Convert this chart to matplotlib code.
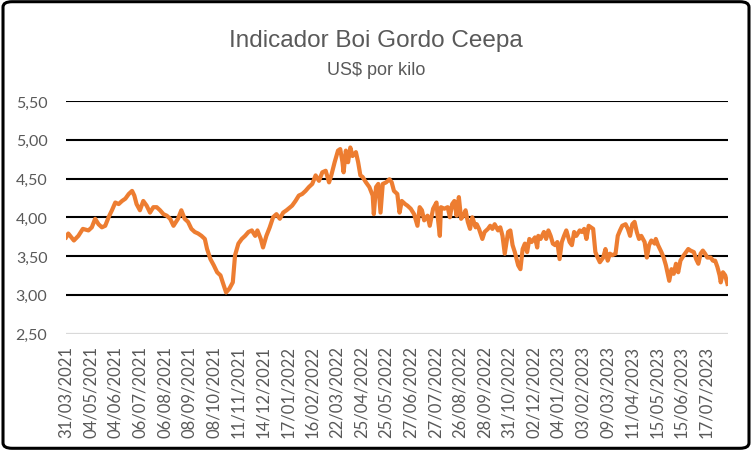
import matplotlib
matplotlib.use("Agg")
import matplotlib.pyplot as plt
from matplotlib.patches import FancyBboxPatch

# ---- data (trading-session index, value in US$/kg) ----
session = [0, 2, 7, 11, 15, 20, 23, 26, 29, 32, 35, 38, 41, 44, 47, 50, 53, 56, 59, 61, 63, 66, 69, 72,
           75, 78, 81, 84, 87, 90, 93, 96,
           100, 103, 106, 109, 112, 115, 118, 121, 124, 126, 129, 132, 135, 138, 140, 143, 146, 149,
           151, 154, 157, 160, 163, 166, 169, 171, 174, 176, 179, 182, 185, 188, 191, 194, 197,
           202, 205, 208, 211, 214, 217, 220, 223, 226, 229, 232, 235, 237, 240, 243, 245, 247, 248,
           250, 252, 254, 256, 259, 261, 263, 265, 268, 271, 274, 275, 277, 279, 281, 283, 286, 289,
           291, 293, 296, 298, 300, 303,
           305, 308, 311, 314, 316, 318, 320, 323, 325, 328, 331, 332, 334, 335, 338, 341, 343, 345,
           347, 349, 351, 353, 355, 357, 359, 361, 363, 366, 367, 369, 372, 374, 377, 379, 381, 383,
           386, 388, 390, 392, 395, 397, 399, 401, 404, 406,
           408, 410, 412, 414, 416, 419, 421, 422, 424, 427, 429, 431, 433, 435, 437, 439, 441, 443,
           445, 447, 450, 452, 454, 456, 459, 461, 463, 465, 467, 469, 471, 473, 475, 477, 480, 482,
           484, 486, 488, 491, 493, 495, 497, 500, 502, 504, 506, 508,
           510, 512, 514, 517, 519, 521, 523, 526, 527, 529, 532, 534, 536, 538, 539, 541, 543, 545,
           547, 549, 552, 554, 556, 558, 561, 563, 565, 567, 569, 571, 573, 576, 578, 580, 582, 584,
           585, 587, 589, 591]

price = [3.74, 3.79, 3.70, 3.76, 3.85, 3.83, 3.87, 3.98, 3.91, 3.87, 3.89, 4.00, 4.09, 4.19, 4.17, 4.21,
         4.24, 4.30, 4.34, 4.28, 4.17, 4.09, 4.21, 4.15, 4.06, 4.13, 4.13, 4.09, 4.04, 4.02, 3.98, 3.89,
         3.98, 4.09, 3.98, 3.94, 3.85, 3.81, 3.79, 3.76, 3.72, 3.59, 3.46, 3.38, 3.29, 3.25, 3.16, 3.03,
         3.08, 3.16, 3.51, 3.66, 3.72, 3.76, 3.81, 3.83, 3.76, 3.83, 3.72, 3.61, 3.76, 3.87, 4.00, 4.04,
         3.98, 4.06, 4.09,
         4.15, 4.21, 4.28, 4.30, 4.34, 4.39, 4.43, 4.54, 4.47, 4.58, 4.60, 4.45, 4.54, 4.71, 4.86, 4.88,
         4.71, 4.58, 4.86, 4.71, 4.90, 4.79, 4.84, 4.71, 4.54, 4.52, 4.45, 4.39, 4.28, 4.04, 4.39, 4.43,
         4.06, 4.43, 4.45, 4.49, 4.45, 4.34, 4.30, 4.06, 4.21, 4.17,
         4.15, 4.11, 4.04, 3.89, 4.13, 4.09, 3.96, 4.02, 3.89, 4.11, 4.19, 4.02, 3.76, 4.13, 4.11, 4.13,
         4.00, 4.17, 4.21, 4.02, 4.26, 3.98, 4.02, 4.09, 3.94, 3.85, 4.00, 3.87, 3.91, 3.85, 3.72, 3.81,
         3.85, 3.89, 3.85, 3.91, 3.83, 3.87, 3.76, 3.53, 3.81, 3.83, 3.64, 3.55, 3.38, 3.33,
         3.59, 3.66, 3.55, 3.72, 3.68, 3.74, 3.61, 3.76, 3.72, 3.81, 3.72, 3.83, 3.76, 3.66, 3.64, 3.68,
         3.46, 3.68, 3.76, 3.83, 3.68, 3.64, 3.81, 3.76, 3.83, 3.81, 3.85, 3.72, 3.89, 3.87, 3.85, 3.55,
         3.48, 3.42, 3.48, 3.59, 3.44, 3.53, 3.51, 3.53, 3.76, 3.83, 3.89, 3.91, 3.85, 3.76, 3.91, 3.94,
         3.81, 3.72, 3.76, 3.68, 3.48, 3.64, 3.70, 3.66, 3.72, 3.64, 3.55, 3.48, 3.38, 3.25, 3.18, 3.33,
         3.27, 3.40, 3.29, 3.44, 3.51, 3.55, 3.59, 3.57, 3.55, 3.46, 3.40, 3.53, 3.57, 3.53, 3.48, 3.48,
         3.44, 3.44, 3.36, 3.25, 3.16, 3.29, 3.25, 3.14]

tick_labels = ["31/03/2021", "04/05/2021", "04/06/2021", "06/07/2021", "06/08/2021", "08/09/2021",
               "08/10/2021", "11/11/2021", "14/12/2021", "17/01/2022", "16/02/2022", "22/03/2022",
               "25/04/2022", "25/05/2022", "27/06/2022", "27/07/2022", "26/08/2022", "28/09/2022",
               "31/10/2022", "02/12/2022", "04/01/2023", "03/02/2023", "09/03/2023", "11/04/2023",
               "15/05/2023", "15/06/2023", "17/07/2023"]
label_step = 22
n_sessions = 592
y_ticks = [2.5, 3.0, 3.5, 4.0, 4.5, 5.0, 5.5]

title = "Indicador Boi Gordo Ceepa"
subtitle = "US$ por kilo"

# ---- figure ----
fig = plt.figure(figsize=(7.52, 4.52), dpi=100)
fig.patch.set_facecolor("white")
ax = fig.add_axes([65.5 / 752, 1 - 334.5 / 452, (728 - 65.5) / 752, (334.5 - 102) / 452])

for v in y_ticks[1:]:
    ax.axhline(v, color="black", lw=1.5, zorder=1)
ax.axhline(y_ticks[0], color="#D9D9D9", lw=1.6, zorder=1)

ax.plot(session, price, color="#ED7D31", lw=3.0, solid_joinstyle="round", zorder=3)

ax.set_xlim(-0.5, n_sessions - 0.5)
ax.set_ylim(y_ticks[0], y_ticks[-1])
ax.set_yticks(y_ticks)
ax.set_yticklabels([f"{v:.2f}".replace(".", ",") for v in y_ticks],
                   fontfamily="Lato", fontsize=11.5, color="#595959")
ax.set_xticks([i * label_step for i in range(len(tick_labels))])
ax.set_xticklabels(tick_labels, rotation=90, fontfamily="Lato", fontsize=12, color="#595959")
ax.tick_params(axis="both", length=0)
ax.tick_params(axis="y", pad=13)
ax.tick_params(axis="x", pad=8)
for s in ax.spines.values():
    s.set_visible(False)
ax.set_facecolor("white")

fig.text(376 / 752, 1 - 46.7 / 452, title, ha="center", va="baseline",
         fontfamily="Liberation Sans", fontsize=17.5, color="#595959")
fig.text(376.5 / 752, 1 - 75 / 452, subtitle, ha="center", va="baseline",
         fontfamily="Liberation Sans", fontsize=13, color="#595959")

fig.patches.append(FancyBboxPatch((0.004, 0.006), 0.992, 0.988, boxstyle="round,pad=0,rounding_size=0.012",
                                  transform=fig.transFigure, fill=False,
                                  edgecolor="black", lw=2.2, zorder=10))

fig.savefig("out.png", dpi=100)
